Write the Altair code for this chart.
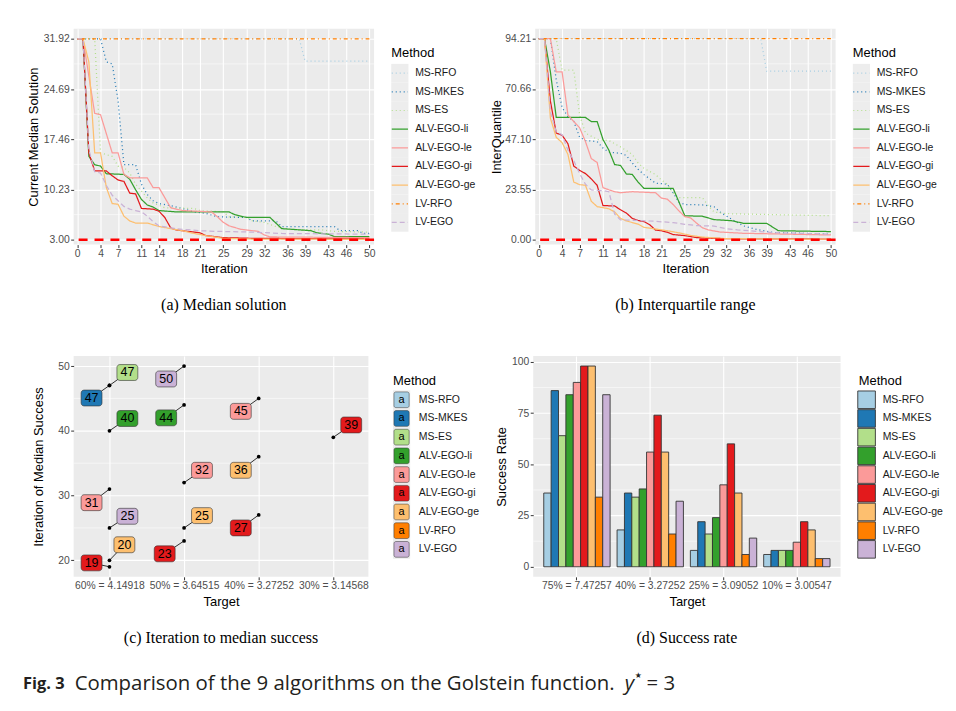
import json
import altair as alt
import pandas as pd

# ------------------------------------------------------------------ categories / styles
methods = ["MS-RFO", "MS-MKES", "MS-ES", "ALV-EGO-li", "ALV-EGO-le",
           "ALV-EGO-gi", "ALV-EGO-ge", "LV-RFO", "LV-EGO"]
method_colors = ["#A6CEE3", "#1F78B4", "#B2DF8A", "#33A02C", "#FB9A99",
                 "#E31A1C", "#FDBF6F", "#FF7F00", "#CAB2D6"]
method_dashes = [[1, 3], [1, 3], [1, 3], [1, 0], [1, 0], [1, 0], [1, 0],
                 [1, 3, 4, 3], [5, 3]]

iteration_ticks = [0, 4, 7, 11, 14, 18, 21, 25, 29, 32, 36, 39, 43, 46, 50]
median_ticks = [3.00, 10.23, 17.46, 24.69, 31.92]
iqr_ticks = [0.00, 23.55, 47.10, 70.66, 94.21]
median_target = [3.0]
iqr_target = [0.0]

# ------------------------------------------------------------------ (a) current median solution
med_it_ms_rfo = [0, 38, 39, 50]
med_ms_rfo = [31.92, 31.92, 28.7, 28.7]
med_it_ms_mkes = [0, 4, 5, 6, 7, 8, 10, 11, 12, 13, 14, 16, 18, 20, 22, 24, 29, 30, 34, 35, 44, 45, 48, 49, 50]
med_ms_mkes = [31.92, 31.92, 28.6, 28.3, 23.0, 13.8, 13.8, 11.0, 9.5, 8.6, 8.2, 7.9, 7.5, 7.0, 6.8, 6.3, 6.2, 5.7, 5.7, 4.9, 4.9, 4.3, 4.3, 3.9, 3.9]
med_it_ms_es = [0, 3, 4, 6, 7, 8, 9, 10, 11, 12, 13, 15, 20, 21, 25, 26, 29, 30, 32, 34, 36, 42, 44, 50]
med_ms_es = [31.92, 31.92, 15.5, 15.0, 13.6, 13.4, 12.6, 11.0, 10.0, 9.0, 8.3, 7.6, 7.5, 7.2, 7.0, 6.3, 6.2, 5.7, 5.5, 4.9, 4.5, 4.4, 4.2, 4.1]
med_it_li = [0, 1, 2, 3, 4, 5, 8, 9, 10, 11, 12, 13, 14, 17, 26, 27, 29, 33, 35, 40, 41, 43, 44, 50]
med_li = [31.92, 31.92, 15.0, 13.8, 13.6, 12.5, 12.4, 11.7, 10.2, 8.8, 8.0, 7.7, 7.2, 7.0, 7.0, 6.6, 6.2, 6.2, 4.6, 4.3, 4.0, 3.8, 3.45, 3.45]
med_it_le = [0, 1, 3, 4, 6, 7, 8, 9, 12, 13, 14, 16, 18, 23, 24, 25, 26, 28, 31, 32, 33, 50]
med_le = [31.92, 31.92, 21.2, 21.0, 15.5, 15.5, 12.4, 11.9, 11.9, 10.5, 10.5, 7.6, 7.2, 7.0, 6.3, 5.5, 5.0, 4.5, 4.2, 3.7, 3.4, 3.3]
med_it_gi = [0, 1, 2, 3, 5, 6, 7, 8, 9, 10, 11, 13, 14, 15, 16, 17, 18, 20, 21, 22, 25, 30, 50]
med_gi = [31.92, 31.92, 15.5, 12.9, 12.9, 12.2, 11.6, 11.4, 9.7, 9.6, 7.5, 7.4, 7.1, 6.2, 4.7, 4.4, 4.3, 4.1, 4.0, 3.6, 3.3, 3.2, 3.1]
med_it_ge = [0, 1, 2, 3, 4, 5, 6, 7, 8, 9, 10, 12, 14, 16, 18, 20, 22, 25, 30, 50]
med_ge = [31.92, 31.92, 28.6, 15.5, 15.5, 10.5, 8.2, 8.1, 6.4, 5.7, 5.4, 5.4, 4.9, 4.6, 4.3, 3.9, 3.6, 3.2, 3.1, 3.05]
med_it_lv_rfo = [0, 50]
med_lv_rfo = [31.92, 31.92]
med_it_lv_ego = [0, 1, 2, 3, 4, 5, 6, 7, 8, 9, 10, 11, 12, 13, 14, 16, 18, 21, 24, 30, 35, 50]
med_lv_ego = [31.92, 31.92, 16.0, 12.8, 12.6, 10.8, 9.4, 8.6, 7.8, 7.4, 7.2, 7.0, 6.4, 5.6, 5.0, 4.7, 4.5, 4.3, 4.2, 4.1, 3.9, 3.8]

# ------------------------------------------------------------------ (b) interquartile range
iqr_it_ms_rfo = [0, 38, 39, 50]
iqr_ms_rfo = [94.21, 94.21, 79.0, 79.0]
iqr_it_ms_mkes = [0, 2, 3, 4, 5, 6, 7, 8, 10, 11, 12, 14, 15, 16, 17, 18, 20, 22, 23, 24, 25, 28, 30, 31, 33, 35, 37, 40, 50]
iqr_ms_mkes = [94.21, 94.21, 75, 62, 57.7, 55.5, 48, 46.5, 46, 43, 41, 40.5, 39.5, 36, 33, 30.5, 26.5, 26, 22, 17.5, 16.5, 16.3, 15.5, 13, 9.6, 6.5, 5.0, 3.4, 2.6]
iqr_it_ms_es = [0, 3, 4, 6, 7, 8, 10, 12, 14, 16, 17, 18, 20, 21, 22, 23, 24, 28, 29, 30, 32, 50]
iqr_ms_es = [94.21, 94.21, 79.5, 79.5, 58.5, 50, 47, 46.5, 43.5, 40, 36, 33.5, 30.5, 28, 26, 22, 19.7, 19.7, 16, 13, 12.2, 11.2]
iqr_it_li = [0, 1, 2, 3, 8, 9, 10, 11, 12, 13, 14, 15, 16, 17, 18, 23, 25, 28, 30, 33, 35, 39, 41, 50]
iqr_li = [94.21, 94.21, 78.7, 57.3, 57.3, 55.4, 55.4, 47, 42, 35.2, 34.8, 30.8, 30.6, 27, 24.1, 24.1, 11.2, 11.0, 9.4, 8.9, 7.7, 7.7, 4.2, 3.8]
iqr_it_le = [0, 2, 3, 4, 5, 6, 7, 8, 9, 10, 11, 12, 13, 14, 16, 20, 21, 22, 23, 24, 25, 26, 27, 28, 29, 31, 35, 50]
iqr_le = [94.21, 94.21, 78.7, 78.7, 58.5, 55.4, 52.5, 46, 38, 36.2, 24.4, 23.4, 22.5, 22.0, 22.5, 22.0, 19.5, 19.0, 16.5, 13.5, 10.8, 10.2, 7.8, 5.6, 4.6, 3.6, 3.0, 2.2]
iqr_it_gi = [0, 1, 2, 3, 4, 5, 6, 7, 8, 9, 10, 11, 13, 14, 15, 16, 17, 18, 19, 20, 21, 22, 23, 25, 27, 30, 35, 50]
iqr_gi = [94.21, 94.21, 65, 50, 49.0, 45, 34.5, 32.5, 31, 28.5, 25.5, 16, 15.8, 14.0, 12.5, 10.0, 9.0, 8.5, 7.0, 4.5, 4.2, 3.5, 2.4, 1.9, 1.0, 0.6, 0.4, 0.3]
iqr_it_ge = [0, 1, 2, 3, 4, 5, 6, 7, 8, 9, 10, 12, 13, 14, 15, 17, 18, 20, 22, 24, 26, 28, 32, 50]
iqr_ge = [94.21, 94.21, 57, 48, 45.5, 40, 27, 25.8, 25.5, 18, 15.5, 14.5, 13.0, 10.0, 8.8, 7.3, 5.8, 5.0, 4.2, 3.2, 2.0, 1.2, 0.5, 0.2]
iqr_it_lv_rfo = [0, 50]
iqr_lv_rfo = [94.21, 94.21]
iqr_it_lv_ego = [0, 1, 2, 3, 4, 5, 6, 7, 8, 9, 11, 12, 13, 14, 17, 20, 23, 25, 27, 30, 32, 34, 40, 50]
iqr_lv_ego = [94.21, 94.21, 60, 50.5, 49.2, 42, 37, 31, 26, 23.3, 23, 22.5, 12, 9.3, 9.0, 8.6, 8.0, 7.2, 6.6, 6.4, 5.2, 4.6, 3.3, 2.6]

# ------------------------------------------------------------------ (c) iteration to median success
success_targets = ["60% = 4.14918", "50% = 3.64515", "40% = 3.27252", "30% = 3.14568"]
ims_method = ["MS-MKES", "MS-ES", "ALV-EGO-li", "ALV-EGO-le", "LV-EGO", "ALV-EGO-ge", "ALV-EGO-gi",
              "LV-EGO", "ALV-EGO-li", "ALV-EGO-le", "ALV-EGO-ge", "ALV-EGO-gi",
              "ALV-EGO-le", "ALV-EGO-ge", "ALV-EGO-gi",
              "ALV-EGO-gi"]
ims_target = [0, 0, 0, 0, 0, 0, 0, 1, 1, 1, 1, 1, 2, 2, 2, 3]
ims_iteration = [47, 47, 40, 31, 25, 20, 19, 50, 44, 32, 25, 23, 45, 36, 27, 39]
# repelled label placement (target-axis shift, label height)
ims_label_shift = [-0.24, 0.24, 0.24, -0.24, 0.24, 0.2, -0.24, -0.24, -0.24, 0.24, 0.24, -0.26, -0.24, -0.24, -0.24, 0.24]
ims_label_y = [45.06, 49.0, 41.9, 28.9, 26.8, 22.4, 19.6, 48.0, 42.0, 33.9, 26.9, 21.0, 43.0, 33.9, 25.0, 40.9]

# ------------------------------------------------------------------ (d) success rate
rate_targets = ["75% = 7.47257", "40% = 3.27252", "25% = 3.09052", "10% = 3.00547"]
rate_ms_rfo = [36, 18, 8, 6]
rate_ms_mkes = [86, 36, 22, 8]
rate_ms_es = [64, 34, 16, 8]
rate_li = [84, 38, 24, 8]
rate_le = [90, 56, 40, 12]
rate_gi = [98, 74, 60, 22]
rate_ge = [98, 56, 36, 18]
rate_lv_rfo = [34, 16, 6, 4]
rate_lv_ego = [84, 32, 14, 4]

# ------------------------------------------------------------------ tables
def series_table(items):
    rows = []
    for m, its, vals in items:
        for i, v in zip(its, vals):
            rows.append({"method": m, "iter": i, "value": v, "ord": methods.index(m)})
    return pd.DataFrame(rows).sort_values(["ord", "iter"])

med_df = series_table([
    ("MS-RFO", med_it_ms_rfo, med_ms_rfo), ("MS-MKES", med_it_ms_mkes, med_ms_mkes),
    ("MS-ES", med_it_ms_es, med_ms_es), ("ALV-EGO-li", med_it_li, med_li),
    ("ALV-EGO-le", med_it_le, med_le), ("ALV-EGO-gi", med_it_gi, med_gi),
    ("ALV-EGO-ge", med_it_ge, med_ge), ("LV-RFO", med_it_lv_rfo, med_lv_rfo),
    ("LV-EGO", med_it_lv_ego, med_lv_ego)])
iqr_df = series_table([
    ("MS-RFO", iqr_it_ms_rfo, iqr_ms_rfo), ("MS-MKES", iqr_it_ms_mkes, iqr_ms_mkes),
    ("MS-ES", iqr_it_ms_es, iqr_ms_es), ("ALV-EGO-li", iqr_it_li, iqr_li),
    ("ALV-EGO-le", iqr_it_le, iqr_le), ("ALV-EGO-gi", iqr_it_gi, iqr_gi),
    ("ALV-EGO-ge", iqr_it_ge, iqr_ge), ("LV-RFO", iqr_it_lv_rfo, iqr_lv_rfo),
    ("LV-EGO", iqr_it_lv_ego, iqr_lv_ego)])

ims_df = pd.DataFrame({
    "method": ims_method, "tidx": ims_target, "iter": ims_iteration,
    "lab_x": [t + s for t, s in zip(ims_target, ims_label_shift)],
    "lab_y": ims_label_y})

rate_lists = [rate_ms_rfo, rate_ms_mkes, rate_ms_es, rate_li, rate_le, rate_gi, rate_ge, rate_lv_rfo, rate_lv_ego]
rate_df = pd.DataFrame([{"target": t, "method": m, "rate": r[k]}
                        for m, r in zip(methods, rate_lists) for k, t in enumerate(rate_targets)])

leg_df = pd.DataFrame({"method": methods, "idx": list(range(len(methods)))})

# ------------------------------------------------------------------ styling helpers
FONT = "Liberation Sans"
SERIF = "Liberation Serif"
PANEL = "#EBEBEB"
GREY30 = "#4D4D4D"
color_scale = alt.Scale(domain=methods, range=method_colors)
dash_scale = alt.Scale(domain=methods, range=method_dashes)
panel_view = alt.ViewBackground(fill=PANEL, stroke="transparent")
blank_view = alt.ViewBackground(fill="transparent", stroke="transparent")


def axis(**kw):
    base = dict(domain=False, grid=True, gridColor="white", gridWidth=1.1,
                tickColor="#333333", tickSize=3, labelPadding=1,
                labelColor=GREY30, labelFont=FONT, labelFontSize=10.4,
                titleFont=FONT, titleFontSize=13, titleColor="black",
                titleFontWeight="normal")
    base.update(kw)
    return alt.Axis(**base)


def caption(text, offset):
    return alt.TitleParams(text, orient="bottom", anchor="middle", frame="group",
                           font=SERIF, fontSize=16, fontWeight="normal",
                           color="black", offset=offset)


def left_anchor(x):
    # invisible helper so that every row's layout bounds begin at the same page x
    return alt.Chart(pd.DataFrame({"z": [0]})).mark_rule(opacity=0).encode(
        x=alt.value(x), x2=alt.value(x + 1), y=alt.value(0), y2=alt.value(1))


def line_panel(df, ydom, yticks, ytitle, extent, tpad, target, cap, extra=()):
    minor = [(a + b) / 2 for a, b in zip(yticks[:-1], yticks[1:])]
    xs = alt.Scale(domain=[-0.6, 50.8], nice=False, zero=False)
    ys = alt.Scale(domain=ydom, nice=False, zero=False)
    yax = axis(values=yticks, format=".2f", title=ytitle, minExtent=extent,
               maxExtent=extent, titlePadding=tpad, labelPadding=1.5)
    xax = axis(values=iteration_ticks, format="d", title="Iteration", titlePadding=4)
    minor_layer = alt.Chart(pd.DataFrame({"m": minor})).mark_rule(
        color="white", strokeWidth=0.55).encode(y=alt.Y("m:Q", scale=ys, axis=yax))
    lines = alt.Chart(df).mark_line(strokeWidth=1.25).encode(
        x=alt.X("iter:Q", scale=xs, axis=xax),
        y=alt.Y("value:Q", scale=ys, axis=yax),
        color=alt.Color("method:N", scale=color_scale, legend=None),
        strokeDash=alt.StrokeDash("method:N", scale=dash_scale, legend=None),
        order="iter:Q")
    star = alt.Chart(pd.DataFrame({"y": target})).mark_rule(
        color="#FF0000", strokeWidth=2.6, strokeDash=[9, 7]).encode(
        y=alt.Y("y:Q", scale=ys, axis=yax))
    return alt.layer(minor_layer, lines, star, *extra).properties(
        width=302, height=217, view=panel_view, title=caption(cap, 21))


def legend_scale(first, step, height):
    return alt.Scale(domain=[-first / step, (height - first) / step],
                     reverse=True, nice=False, zero=False)


def legend_title(x, y):
    return alt.Chart(pd.DataFrame({"t": ["Method"]})).mark_text(
        align="left", baseline="middle", font=FONT, fontSize=13, color="black").encode(
        x=alt.value(x), y=alt.value(y), text="t:N")


def legend_labels(ys, x):
    return alt.Chart(leg_df).mark_text(
        align="left", baseline="middle", font=FONT, fontSize=10.5, color="#1A1A1A").encode(
        x=alt.value(x), y=alt.Y("idx:Q", scale=ys, axis=None), text="method:N")


def key_bg(ys, x, fill="#EDEDED", half=0.5):
    return alt.Chart(leg_df).transform_calculate(
        y0=f"datum.idx - {half}", y1=f"datum.idx + {half}").mark_rect(color=fill).encode(
        x=alt.value(x), x2=alt.value(x + 17.3),
        y=alt.Y("y0:Q", scale=ys, axis=None), y2="y1:Q")


def line_legend(width, height, key_x, lab_x, first, step, title_y):
    ys = legend_scale(first, step, height)
    samples = alt.Chart(leg_df).mark_rule(strokeWidth=1.25).encode(
        x=alt.value(key_x + 0.5), x2=alt.value(key_x + 16.8),
        y=alt.Y("idx:Q", scale=ys, axis=None),
        color=alt.Color("method:N", scale=color_scale, legend=None),
        strokeDash=alt.StrokeDash("method:N", scale=dash_scale, legend=None))
    return alt.layer(key_bg(ys, key_x), samples, legend_labels(ys, lab_x),
                     legend_title(key_x, title_y)).properties(
        width=width, height=height, view=blank_view)


# ------------------------------------------------------------------ row 1
panel_a = line_panel(med_df, [2.3, 33.37], median_ticks, "Current Median Solution",
                     32, 1, median_target, "(a) Median solution", extra=(left_anchor(-56.7),))
panel_b = line_panel(iqr_df, [-2.3, 98.9], iqr_ticks, "InterQuantile",
                     30, 2, iqr_target, "(b) Interquartile range")
leg_a = line_legend(161.3, 217, 17.3, 41.3, 44.7, 18.75, 24.7)
leg_b = line_legend(100, 217, 17.3, 41.3, 44.7, 18.75, 24.7)
row1 = alt.hconcat(panel_a, leg_a, panel_b, leg_b, spacing=0, bounds="flush")

# ------------------------------------------------------------------ (c) panel
c_xs = alt.Scale(domain=[-0.48, 3.47], nice=False, zero=False)
c_ys = alt.Scale(domain=[17.45, 51.55], nice=False, zero=False)
c_yticks = [20, 30, 40, 50]
c_label_expr = json.dumps(success_targets) + "[datum.value]"
c_xax = axis(values=[0, 1, 2, 3], labelExpr=c_label_expr, title="Target", titlePadding=4)
c_yax = axis(values=c_yticks, title="Iteration of Median Success", minExtent=25,
             maxExtent=25, titlePadding=3, labelPadding=1.5)
c_minor = alt.Chart(pd.DataFrame({"m": [25, 35, 45]})).mark_rule(
    color="white", strokeWidth=0.55).encode(y=alt.Y("m:Q", scale=c_ys, axis=c_yax))
c_base = alt.Chart(ims_df)
c_seg = c_base.mark_rule(color="black", strokeWidth=0.8).encode(
    x=alt.X("tidx:Q", scale=c_xs, axis=c_xax), y=alt.Y("iter:Q", scale=c_ys, axis=c_yax),
    x2="lab_x:Q", y2="lab_y:Q")
c_pts = c_base.mark_circle(size=14, color="black", opacity=1).encode(
    x=alt.X("tidx:Q", scale=c_xs, axis=c_xax), y=alt.Y("iter:Q", scale=c_ys, axis=c_yax))
c_box = c_base.mark_rect(width=21, height=16, cornerRadius=3, stroke="#333333",
                         strokeWidth=0.6).encode(
    x=alt.X("lab_x:Q", scale=c_xs, axis=c_xax), y=alt.Y("lab_y:Q", scale=c_ys, axis=c_yax),
    fill=alt.Fill("method:N", scale=color_scale, legend=None))
c_txt = c_base.mark_text(font=FONT, fontSize=12.5, color="black", baseline="middle").encode(
    x=alt.X("lab_x:Q", scale=c_xs, axis=c_xax), y=alt.Y("lab_y:Q", scale=c_ys, axis=c_yax),
    text="iter:Q")
panel_c = alt.layer(c_minor, c_seg, c_pts, c_box, c_txt).properties(
    width=296.3, height=222, view=panel_view,
    title=caption("(c) Iteration to median success", 22))


# figure caption (drawn under the lower row, hosted by the (c) legend view)
def cap_text(t, x, **kw):
    style = dict(align="left", baseline="middle", font="Open Sans", fontSize=20.5, color="#231F20")
    style.update(kw)
    return alt.Chart(pd.DataFrame({"t": [t]})).mark_text(**style).encode(
        x=alt.value(x), y=alt.value(330), text="t:N")

fig_caption = [
    cap_text("Fig. 3", -348, fontWeight="bold", fontSize=16.5),
    cap_text("Comparison of the 9 algorithms on the Golstein function.", -296),
    cap_text("y", 257, fontStyle="italic"),
    cap_text("\u2605", 267, fontSize=8, dy=-8, font="DejaVu Sans"),
    cap_text("= 3", 279),
]

# legend (c)
lc_ys = legend_scale(44, 18.8, 222)
lc_box = alt.Chart(leg_df).transform_calculate(
    y0="datum.idx - 0.42", y1="datum.idx + 0.42").mark_rect(
    cornerRadius=2, stroke="#333333", strokeWidth=0.5).encode(
    x=alt.value(25.0), x2=alt.value(40.3),
    y=alt.Y("y0:Q", scale=lc_ys, axis=None), y2="y1:Q",
    fill=alt.Fill("method:N", scale=color_scale, legend=None))
lc_a = alt.Chart(leg_df).transform_calculate(a="'a'").mark_text(
    font=FONT, fontSize=11, color="black", baseline="middle").encode(
    x=alt.value(32.65), y=alt.Y("idx:Q", scale=lc_ys, axis=None), text="a:N")
leg_c = alt.layer(key_bg(lc_ys, 24, fill="#EBEBEB"), lc_box, lc_a, legend_labels(lc_ys, 50),
                  legend_title(24, 24.7), *fig_caption).properties(
    width=164.7, height=222, view=blank_view)

# ------------------------------------------------------------------ (d) panel
d_ys = alt.Scale(domain=[-4.9, 102.9], nice=False, zero=False)
d_yax = axis(values=[0, 25, 50, 75, 100], title="Success Rate", minExtent=22.7,
             maxExtent=22.7, titlePadding=2, labelPadding=1.5)
d_xax = axis(title="Target", labelAngle=0, bandPosition=0.5, titlePadding=4)
d_minor = alt.Chart(pd.DataFrame({"m": [12.5, 37.5, 62.5, 87.5]})).mark_rule(
    color="white", strokeWidth=0.55).encode(y=alt.Y("m:Q", scale=d_ys, axis=d_yax))
d_bars = alt.Chart(rate_df).mark_bar(stroke="#333333", strokeWidth=0.9).encode(
    x=alt.X("target:N", sort=rate_targets,
            scale=alt.Scale(paddingInner=0.095, paddingOuter=0.144), axis=d_xax),
    xOffset=alt.XOffset("method:N", sort=methods,
                        scale=alt.Scale(paddingInner=0, paddingOuter=0)),
    y=alt.Y("rate:Q", scale=d_ys, axis=d_yax), y2=alt.datum(0),
    fill=alt.Fill("method:N", scale=color_scale, legend=None))
panel_d = alt.layer(d_minor, d_bars).properties(
    width=309, height=222, view=panel_view, title=caption("(d) Success rate", 22))

ld_ys = legend_scale(44, 18.8, 222)
ld_sq = alt.Chart(leg_df).transform_calculate(
    y0="datum.idx - 0.47", y1="datum.idx + 0.47").mark_rect(
    stroke="#333333", strokeWidth=0.9).encode(
    x=alt.value(17.3), x2=alt.value(35.0),
    y=alt.Y("y0:Q", scale=ld_ys, axis=None), y2="y1:Q",
    fill=alt.Fill("method:N", scale=color_scale, legend=None))
leg_d = alt.layer(ld_sq, legend_labels(ld_ys, 42.3), legend_title(18.3, 24.7)).properties(
    width=100, height=222, view=blank_view)

row2 = alt.hconcat(panel_c, leg_c, panel_d, leg_d, spacing=0, bounds="flush")

chart = alt.vconcat(row1, row2, spacing=43).properties(
    padding={"left": 9, "top": 19, "right": 5, "bottom": 5}, background="white")

chart = chart.configure_view(strokeWidth=0)
chart.save("out.html", embed_options={"renderer": "svg", "actions": False})
